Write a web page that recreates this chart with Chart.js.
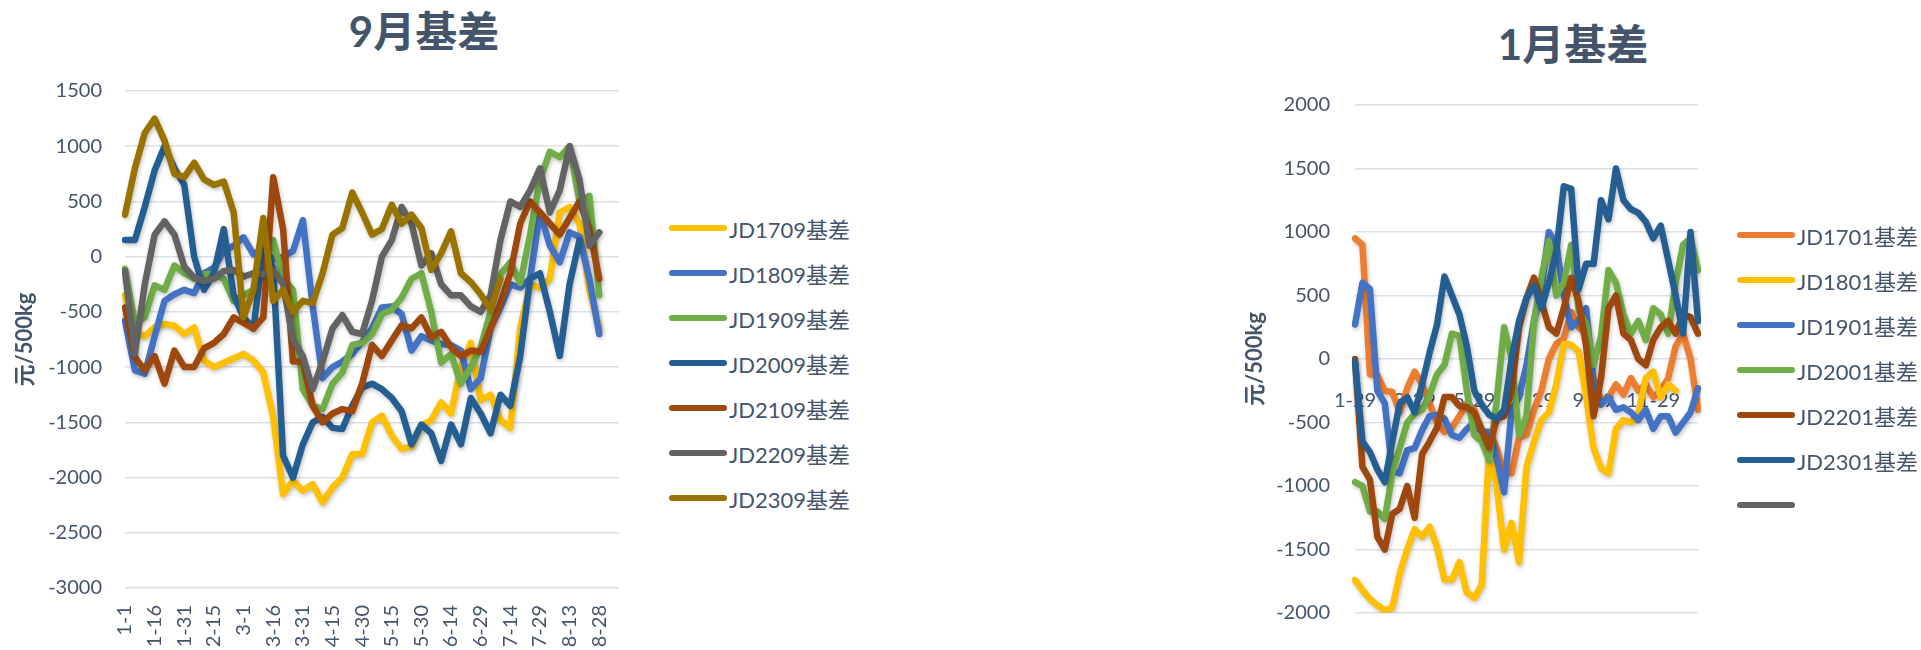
<!DOCTYPE html>
<html>
<head>
<meta charset="utf-8">
<script src="https://cdn.jsdelivr.net/npm/chart.js@4.4.0/dist/chart.umd.min.js"></script>
<style>
  body { margin: 0; width: 1921px; height: 650px; background: #fff; position: relative; overflow: hidden;
         font-family: Lato, "Noto Sans CJK SC", sans-serif; color: #44546A; }
  .title { position: absolute; font-weight: bold; font-size: 42px; line-height: 50px; transform: translate(-50%, -50%); white-space: nowrap; }
  .legend-row { position: absolute; height: 30px; display: flex; align-items: center; font-size: 22px; white-space: nowrap; }
  .legend-row .line { display: inline-block; width: 58px; height: 6px; border-radius: 3px; margin-right: 2px; }
  #wrap9 { position: absolute; left: 0; top: 0; }
  #wrap1 { position: absolute; left: 1200px; top: 0; }
</style>
</head>
<body>
<div class="title" style="left:424px; top:31px">9月基差</div>
<div class="title" style="left:1573px; top:44px">1月基差</div>
<div id="wrap9"><canvas id="chart9" width="660" height="650"></canvas></div>
<div id="wrap1"><canvas id="chart1" width="721" height="650"></canvas></div>
<div id="legend9"></div>
<div id="legend1"></div>
<script>
// ---- 9月基差 data (every 5 days, leap-year calendar) ----
let days9 = ['1-1','1-6','1-11','1-16','1-21','1-26','1-31','2-5','2-10','2-15','2-20','2-25','3-1','3-6','3-11','3-16','3-21','3-26','3-31','4-5','4-10','4-15','4-20','4-25','4-30','5-5','5-10','5-15','5-20','5-25','5-30','6-4','6-9','6-14','6-19','6-24','6-29','7-4','7-9','7-14','7-19','7-24','7-29','8-3','8-8','8-13','8-18','8-23','8-28','9-2','9-7']

let jd1709 = [-350,-680,-720,-640,-610,-625,-700,-640,-940,-1000,-960,-920,-880,-940,-1050,-1450,-2150,-2030,-2120,-2060,-2225,-2090,-2000,-1790,-1790,-1500,-1440,-1620,-1740,-1720,-1530,-1480,-1320,-1420,-1000,-780,-1300,-1250,-1480,-1550,-650,-250,-280,-200,400,450,300,-300,-650,null,null]
let jd1809 = [-580,-1030,-1060,-720,-400,-340,-300,-330,-150,-100,50,100,175,20,80,-30,0,50,330,-450,-1100,-1000,-950,-880,-770,-650,-460,-450,-520,-850,-720,-760,-790,-800,-850,-1200,-1100,-650,-460,-250,-280,-200,400,100,-50,220,180,-200,-700,null,null]
let jd1909 = [-110,-600,-550,-260,-300,-80,-150,-200,-160,-160,-200,-400,-350,-300,-100,150,-200,-300,-1200,-1350,-1380,-1150,-1050,-800,-780,-700,-520,-480,-370,-200,-150,-500,-960,-880,-1150,-1000,-820,-500,-160,-50,-240,200,700,950,900,1000,500,550,-350,null,null]
let jd2009 = [150,150,450,780,1000,800,650,0,-300,-150,250,-350,-550,-650,50,-100,-1800,-2000,-1700,-1500,-1450,-1550,-1560,-1350,-1185,-1150,-1200,-1280,-1400,-1700,-1520,-1600,-1850,-1520,-1700,-1280,-1420,-1600,-1250,-1350,-900,-200,-150,-500,-900,-250,150,null,null,null,null]
let jd2109 = [-460,-910,-1030,-900,-1150,-850,-1000,-1000,-830,-780,-700,-550,-600,-650,-550,720,250,-950,-950,-1350,-1500,-1420,-1380,-1400,-1150,-800,-900,-760,-620,-650,-550,-730,-680,-820,-900,-850,-860,-650,-420,-150,300,500,400,300,200,350,500,250,-200,null,null]
let jd2209 = [-130,-880,-250,200,320,200,-90,-190,-220,-200,-130,-120,-180,-150,-160,-120,-250,-750,-900,-1200,-950,-650,-530,-680,-700,-400,0,150,450,300,-80,30,-250,-350,-350,-450,-500,-350,150,500,450,600,800,400,600,1000,700,100,220,null,null]
let jd2309 = [380,800,1120,1250,1050,750,720,850,700,650,680,400,-550,-300,350,-400,-300,-500,-400,-420,-150,200,260,580,400,200,250,470,300,380,260,-120,30,230,-150,-230,-340,-480,-200,null,null,null,null,null,null,null,null,null,null,null,null]

let names9 = ['JD1709基差','JD1809基差','JD1909基差','JD2009基差','JD2109基差','JD2209基差','JD2309基差']
let colors9 = ['#FFC000','#4472C4','#70AD47','#255E91','#9E480E','#636363','#997300']
let yTicks9 = { min: -3000, max: 1500, step: 500 }

// ---- 1月基差 data (roughly weekly) ----
let days1 = ['1-29','2-5','2-13','2-21','2-29','3-7','3-14','3-21','3-29','4-5','4-13','4-21','4-29','5-6','5-14','5-21','5-29','6-5','6-13','6-21','6-29','7-6','7-14','7-21','7-29','8-5','8-13','8-21','8-29','9-6','9-14','9-21','9-29','10-6','10-14','10-21','10-29','11-6','11-14','11-21','11-29','12-6','12-14','12-21','12-29','1-5','1-13']

let jd1701 = [950,900,-120,-130,-250,-260,-420,-230,-100,-200,-350,-500,-574,-540,-450,-350,-400,-574,-574,-700,-900,-900,-620,-600,-400,-250,0,120,160,370,250,200,-150,-330,-300,-200,-280,-150,-250,-200,-300,-250,-150,100,200,0,-400]
let jd1801 = [-1740,-1820,-1890,-1940,-1977,-1960,-1690,-1500,-1340,-1400,-1320,-1480,-1738,-1738,-1600,-1840,-1880,-1780,-700,-1000,-1500,-1290,-1600,-850,-650,-480,-420,-200,120,110,60,-300,-700,-860,-900,-550,-480,-500,-430,-150,-100,-300,-200,-250,null,null,null]
let jd1901 = [272,600,550,-250,-350,-880,-900,-720,-700,-560,-450,-440,-470,-600,-620,-550,-500,-574,-574,-780,-1050,-400,-300,-45,300,550,1000,900,500,250,300,400,-200,-360,-300,-400,-380,-420,-480,-400,-550,-450,-450,-580,-500,-420,-230]
let jd2001 = [-970,-1000,-1200,-1200,-1260,-900,-700,-500,-430,-400,-280,-120,-45,200,180,-250,-600,-650,-800,-330,250,0,-600,-450,300,640,930,500,600,900,380,280,-45,180,700,600,350,200,300,150,400,350,200,600,900,950,700]
let jd2201 = [0,-850,-950,-1400,-1500,-1220,-1180,-1000,-1250,-750,-650,-540,-300,-300,-370,-380,-420,-560,-700,-470,-450,-250,250,480,640,450,250,200,400,640,450,100,-450,-150,400,500,200,150,0,-50,150,250,300,200,350,330,200]
let jd2301 = [-20,-650,-733,-870,-970,-650,-350,-300,-420,-200,50,270,650,500,350,100,-250,-360,-440,-470,-400,0,300,480,580,400,600,850,1360,1340,550,750,750,1250,1100,1500,1250,1180,1150,1080,950,1050,780,500,200,1000,300]
let jdBlank = []

let names1 = ['JD1701基差','JD1801基差','JD1901基差','JD2001基差','JD2201基差','JD2301基差','']
let colors1 = ['#ED7D31','#FFC000','#4472C4','#70AD47','#9E480E','#255E91','#636363']
let yTicks1 = { min: -2000, max: 2000, step: 500 }

let textColor = '#44546A'
let gridColor = '#DCE0E6'
Chart.defaults.font.family = 'Lato, "Noto Sans CJK SC", sans-serif'
Chart.defaults.color = textColor

// soft shadow under the lines, like the Excel line effect
let lineShadow = {
    id: 'lineShadow',
    beforeDatasetsDraw: function (chart) {
        let c = chart.ctx
        c.save()
        c.shadowColor = 'rgba(0,0,0,0.25)'
        c.shadowBlur = 4
        c.shadowOffsetX = 1
        c.shadowOffsetY = 2
    },
    afterDatasetsDraw: function (chart) {
        chart.ctx.restore()
    }
}

// later series sit on top, as in Excel
function makeSets(names, colors, series) {
    return series.map(function (data, i) {
        return {
            label: names[i],
            data: data,
            borderColor: colors[i],
            backgroundColor: colors[i],
            order: series.length - i
        }
    })
}

let lineStyle = {
    point: { radius: 0, hoverRadius: 0 },
    line: { borderWidth: 6.5, tension: 0, borderJoinStyle: 'round', borderCapStyle: 'round' }
}

// plain numbers on the value axis, no thousands separator
function plainTick(v) { return String(v) }

// 9月基差
var ctx9 = document.getElementById('chart9').getContext('2d')
var chart9 = new Chart(ctx9, {
    type: 'line',
    data: {
        labels: days9,
        datasets: makeSets(names9, colors9, [jd1709, jd1809, jd1909, jd2009, jd2109, jd2209, jd2309])
    },
    plugins: [lineShadow],
    options: {
        responsive: false,
        animation: false,
        layout: { padding: { left: 0, top: 91, right: 30, bottom: 0 } },
        plugins: { legend: { display: false }, tooltip: { enabled: false } },
        elements: lineStyle,
        scales: {
            x: {
                offset: false,
                grid: { display: false, drawTicks: false },
                border: { display: false },
                ticks: {
                    autoSkip: false, minRotation: 90, maxRotation: 90, padding: 17,
                    font: { size: 20 }, color: textColor,
                    callback: function (v, i) { return i % 3 === 0 ? this.getLabelForValue(v) : '' }
                },
                afterFit: function (s) { s.height = 62 }
            },
            y: {
                min: yTicks9.min, max: yTicks9.max,
                ticks: { stepSize: yTicks9.step, padding: 23, font: { size: 20 }, color: textColor, callback: plainTick },
                grid: { color: gridColor, lineWidth: 1.5, drawTicks: false },
                border: { display: false },
                title: { display: true, text: '元/500kg', font: { size: 22, weight: 'bold' }, padding: { top: 12, bottom: 0 }, color: textColor },
                afterFit: function (s) { s.width = 125 }
            }
        }
    }
})

// 1月基差
var ctx1 = document.getElementById('chart1').getContext('2d')
var chart1 = new Chart(ctx1, {
    type: 'line',
    data: {
        labels: days1,
        datasets: makeSets(names1, colors1, [jd1701, jd1801, jd1901, jd2001, jd2201, jd2301, jdBlank])
    },
    plugins: [lineShadow],
    options: {
        responsive: false,
        animation: false,
        layout: { padding: { left: 0, top: 105, right: 223, bottom: 15 } },
        plugins: { legend: { display: false }, tooltip: { enabled: false } },
        elements: lineStyle,
        scales: {
            x: {
                position: { y: 0 },
                offset: false,
                grid: { display: false, drawTicks: false },
                border: { display: false },
                ticks: {
                    autoSkip: false, maxRotation: 0, minRotation: 0, padding: 30,
                    font: { size: 20 }, color: textColor,
                    callback: function (v, i) { return i % 8 === 0 ? this.getLabelForValue(v) : '' }
                },
                afterFit: function (s) { s.height = 0 }
            },
            y: {
                min: yTicks1.min, max: yTicks1.max,
                ticks: { stepSize: yTicks1.step, padding: 25, font: { size: 20 }, color: textColor, callback: plainTick },
                grid: { color: gridColor, lineWidth: 1.5, drawTicks: false },
                border: { display: false },
                title: { display: true, text: '元/500kg', font: { size: 22, weight: 'bold' }, padding: { top: 42, bottom: 0 }, color: textColor },
                afterFit: function (s) { s.width = 155 }
            }
        }
    }
})

// legends (html, next to each chart)
function buildLegend(el, names, colors, left, firstY) {
    let html = ''
    for (let i = 0; i < names.length; i++) {
        let y = firstY + i * 45 - 15
        html += '<div class="legend-row" style="left:' + left + 'px; top:' + y + 'px">' +
                '<span class="line" style="background:' + colors[i] + '"></span>' + names[i] + '</div>'
    }
    el.innerHTML = html
}
buildLegend(document.getElementById('legend9'), names9, colors9, 669, 228)
buildLegend(document.getElementById('legend1'), names1, colors1, 1737, 235)
</script>
</body>
</html>
